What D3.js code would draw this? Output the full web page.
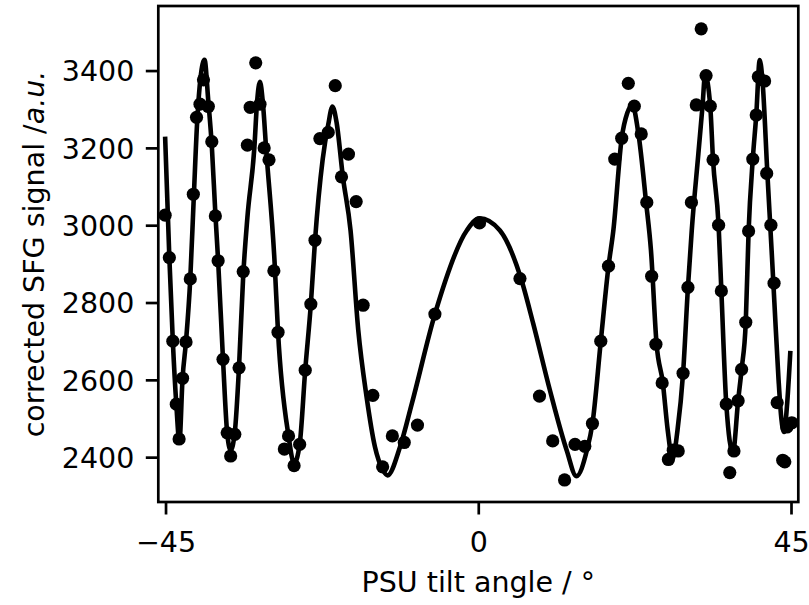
<!DOCTYPE html>
<html><head><meta charset="utf-8">
<script src="https://cdn.jsdelivr.net/npm/d3@7"></script>
<style>body{margin:0;background:#fff} text{font-family:"DejaVu Sans",sans-serif;fill:#000}</style>
</head><body><svg id="c" width="809" height="605"></svg>
<script>
// measured data points
const angle = [-45.06,-44.45,-43.95,-43.45,-43.05,-42.55,-42.05,-41.44,-41.0,-40.54,-40.04,-39.54,-38.84,-38.34,-37.83,-37.43,-36.73,-36.13,-35.63,-35.03,-34.42,-33.82,-33.22,-32.82,-32.02,-31.41,-30.81,-30.11,-29.41,-28.81,-27.9,-27.3,-26.5,-25.7,-24.9,-24.09,-23.49,-22.79,-21.59,-20.58,-19.68,-18.68,-17.57,-16.57,-15.17,-13.76,-12.36,-10.65,-8.75,-6.24,0.18,6.0,8.81,10.71,12.42,13.92,15.33,16.43,17.63,18.74,19.64,20.64,21.59,22.45,23.45,24.25,24.95,25.56,26.46,27.36,28.06,28.77,29.47,30.17,30.67,31.37,32.08,32.78,33.38,33.78,34.58,34.98,35.69,36.19,36.79,37.39,37.89,38.49,38.9,39.5,40.0,40.3,41.2,41.5,42.11,42.56,43.01,43.81,44.11,44.41,45.11];
const signal = [3026,2916,2700,2537,2447,2604,2698,2861,3080,3279,3313,3376,3307,3216,3024,2908,2653,2463,2403,2459,2631,2880,3207,3305,3420,3313,3200,3169,2882,2723,2421,2455,2378,2433,2625,2796,2961,3224,3240,3361,3125,3184,3061,2793,2560,2375,2455,2438,2483,2770,3006,2862,2558,2442,2341,2433,2428,2487,2700,2894,3171,3225,3367,3308,3236,3059,2868,2692,2592,2394,2418,2416,2617,2839,3059,3311,3508,3387,3308,3169,3000,2830,2537,2360,2416,2546,2627,2749,2985,3171,3285,3384,3373,3134,3000,2850,2541,2392,2388,2478,2489];
// fit curve
const fitAngle = [-45.06,-44.45,-43.95,-43.45,-43.0,-42.55,-42.05,-41.44,-40.94,-40.44,-39.94,-39.39,-38.84,-38.34,-37.83,-37.43,-36.73,-36.13,-35.63,-35.03,-34.42,-33.82,-33.22,-32.22,-31.82,-31.41,-31.01,-30.51,-29.31,-28.81,-27.3,-26.5,-25.7,-24.9,-24.09,-23.49,-22.39,-21.59,-20.98,-20.38,-19.48,-18.38,-17.27,-16.07,-14.87,-13.76,-13.06,-11.25,-9.55,-6.24,-1.63,0.18,3.09,6.15,7.9,10.31,12.72,14.12,15.63,16.43,17.63,18.74,19.44,20.64,21.44,22.15,23.05,24.15,24.85,25.66,26.56,27.26,27.96,28.67,29.47,30.17,30.72,31.67,32.28,32.63,33.38,33.78,34.58,34.98,35.69,36.64,37.39,37.89,38.49,38.9,39.5,40.0,40.5,40.9,41.6,42.21,42.61,43.21,43.61,44.01,44.41,44.91];
const fitSignal = [3229,2916,2700,2537,2440,2604,2700,2861,3070,3270,3385,3428,3320,3205,3030,2908,2653,2463,2418,2465,2635,2870,3020,3200,3320,3371,3320,3194,2905,2723,2455,2384,2433,2625,2796,2960,3170,3260,3307,3265,3125,2987,2729,2556,2427,2368,2353,2427,2539,2770,2987,3018,2987,2862,2746,2573,2418,2351,2418,2487,2700,2894,2987,3225,3290,3311,3236,3059,2935,2692,2592,2470,2395,2470,2617,2839,2987,3185,3311,3389,3308,3169,3000,2830,2537,2412,2546,2627,2749,2985,3171,3285,3427,3373,3134,2935,2800,2600,2500,2465,2530,2675];
const xTicks = [-45, 0, 45];
const yTicks = [2400, 2600, 2800, 3000, 3200, 3400];
const xTitle = "PSU tilt angle / °";
const yTitleMain = "corrected SFG signal /";
const yTitleItalic = "a.u.";

const svg = d3.select("#c");
const L = 158.3, R = 798.3, T = 6, B = 502;
const FS = 28.5, LW = 2.7, TL = 12.5, PAD = 11.5;
const x = d3.scaleLinear().domain([-46.04, 46.05]).range([L, R]);
const y = d3.scaleLinear().domain([2284, 3567]).range([B, T]);

// fit line
const line = d3.line().x(d => x(d[0])).y(d => y(d[1])).curve(d3.curveMonotoneX);
const fit = fitAngle.map((a, i) => [a, fitSignal[i]]);
svg.append("path").datum(fit).attr("d", line).attr("fill", "none")
  .attr("stroke", "#000").attr("stroke-width", 4.6).attr("stroke-linejoin", "round");

// points
svg.append("g").selectAll("circle").data(angle.map((a, i) => [a, signal[i]])).join("circle")
  .attr("cx", d => x(d[0])).attr("cy", d => y(d[1])).attr("r", 6.6).attr("fill", "#000");

// axes
const xa = svg.append("g").attr("transform", `translate(0,${B})`)
  .call(d3.axisBottom(x).tickValues(xTicks).tickSize(TL).tickPadding(PAD).tickFormat(d3.format("d")));
const ya = svg.append("g").attr("transform", `translate(${L},0)`)
  .call(d3.axisLeft(y).tickValues(yTicks).tickSize(TL).tickPadding(PAD).tickFormat(d3.format("d")));
[xa, ya].forEach(g => {
  g.select(".domain").remove();
  g.selectAll(".tick line").attr("stroke", "#000").attr("stroke-width", LW);
  g.selectAll(".tick text").attr("font-size", FS).attr("font-family", "DejaVu Sans").attr("fill", "#000");
});
xa.selectAll(".tick text").attr("dy", null).attr("y", 50);
ya.selectAll(".tick text").attr("dy", "0.36em");

// frame
svg.append("rect").attr("x", L).attr("y", T).attr("width", R - L).attr("height", B - T)
  .attr("fill", "none").attr("stroke", "#000").attr("stroke-width", LW);

// titles
svg.append("text").attr("x", (L + R) / 2).attr("y", 592).attr("text-anchor", "middle")
  .attr("font-size", FS).text(xTitle);
const yt = svg.append("text").attr("transform", `translate(44,${(T + B) / 2}) rotate(-90)`)
  .attr("text-anchor", "middle").attr("font-size", FS);
yt.append("tspan").text(yTitleMain);
yt.append("tspan").attr("font-style", "italic").text(yTitleItalic);
</script></body></html>
